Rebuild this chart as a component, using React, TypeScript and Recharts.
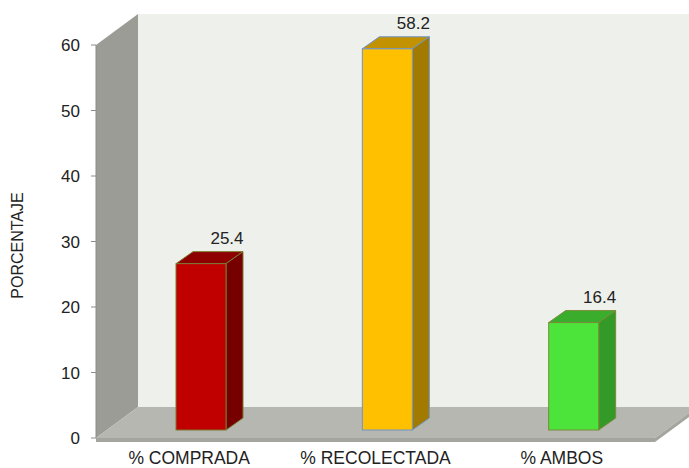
import React from 'react';
import { BarChart, Bar, XAxis, YAxis, ReferenceArea, LabelList } from 'recharts';

const categories = ['% COMPRADA', '% RECOLECTADA', '% AMBOS'];
const values = [25.4, 58.2, 16.4];
const yTicks = [0, 10, 20, 30, 40, 50, 60];
const axisTitle = 'PORCENTAJE';

const data = categories.map((name, i) => ({ name, value: values[i] }));

const frontColors = ['#c00000', '#ffc000', '#4ce43a'];
const topColors = ['#8e0000', '#c39200', '#3aae2c'];
const sideColors = ['#760000', '#a27a00', '#339a27'];
const strokeColors = ['#7a7a30', '#6f95c8', '#7c8a3a'];

const FONT = '"Liberation Sans", Arial, sans-serif';
const TEXT = '#222';

// bar offset into depth and bar depth
const OX = 12, OY = -8, DX = 17, DY = -12;
// wall depth
const WX = 42, WY = -31;

const Walls = (p: any) => {
  const { x, y, width, height } = p;
  const x0 = x, x1 = x + width, yTop = y, yBot = y + height;
  return (
    <g>
      <rect x={x0 + WX} y={yTop + WY} width={width + 60} height={height} fill="#eef0eb" />
      <polygon
        points={`${x0},${yTop} ${x0 + WX},${yTop + WY} ${x0 + WX},${yBot + WY} ${x0},${yBot}`}
        fill="#9a9c95"
      />
      <polygon
        points={`${x0},${yBot} ${x0 + WX},${yBot + WY} ${x1 + WX},${yBot + WY} ${x1},${yBot}`}
        fill="#b5b7b0"
      />
      <polygon
        points={`${x0},${yBot} ${x1},${yBot} ${x1 + WX},${yBot + WY} ${x1 + WX},${yBot + WY + 4} ${x1},${yBot + 4} ${x0},${yBot + 4}`}
        fill="#a3a59e"
      />
    </g>
  );
};

const Bar3D = (props: any) => {
  const { x, y, width, height, index } = props;
  const fx = x + OX, fy = y + OY;
  const stroke = strokeColors[index];
  return (
    <g>
      <polygon
        points={`${fx},${fy} ${fx + DX},${fy + DY} ${fx + width + DX},${fy + DY} ${fx + width},${fy}`}
        fill={topColors[index]}
        stroke={stroke}
        strokeWidth={1}
        strokeLinejoin="round"
      />
      <polygon
        points={`${fx + width},${fy} ${fx + width + DX},${fy + DY} ${fx + width + DX},${fy + height + DY} ${fx + width},${fy + height}`}
        fill={sideColors[index]}
        stroke={stroke}
        strokeWidth={1}
        strokeLinejoin="round"
      />
      <rect x={fx} y={fy} width={width} height={height} fill={frontColors[index]} stroke={stroke} strokeWidth={1} />
    </g>
  );
};

const ValueLabel = (props: any) => {
  const { x, y, width, value } = props;
  return (
    <text
      x={x + width / 2 + OX + 26}
      y={y + OY - 20}
      textAnchor="middle"
      fontFamily={FONT}
      fontSize={17}
      fill={TEXT}
    >
      {value}
    </text>
  );
};

const XTick = (props: any) => {
  const { x, payload } = props;
  return (
    <text x={x} y={464} textAnchor="middle" fontFamily={FONT} fontSize={17.5} fill={TEXT}>
      {payload.value}
    </text>
  );
};

const YTitle = (props: any) => {
  const vb = props.viewBox || { x: 0, y: 45, width: 96, height: 393 };
  const cx = 23;
  const cy = vb.y + vb.height / 2 + 4;
  return (
    <text
      x={cx}
      y={cy}
      transform={`rotate(-90, ${cx}, ${cy})`}
      textAnchor="middle"
      fontFamily={FONT}
      fontSize={16}
      fill={TEXT}
    >
      {axisTitle}
    </text>
  );
};

export default function App() {
  return (
    <div style={{ position: 'absolute', left: 0, top: 0, width: 689, height: 468, background: '#fff' }}>
      <BarChart
        width={689}
        height={468}
        data={data}
        margin={{ top: 45, right: 34, bottom: 0, left: 0 }}
        barSize={50}
      >
        <ReferenceArea y1={0} y2={60} ifOverflow="visible" shape={<Walls />} />
        <XAxis
          dataKey="name"
          axisLine={false}
          tickLine={false}
          height={30}
          tick={<XTick />}
          interval={0}
        />
        <YAxis
          width={96}
          domain={[0, 60]}
          ticks={yTicks}
          axisLine={{ stroke: '#8c8c8c' }}
          tickLine={{ stroke: '#8c8c8c' }}
          tickSize={5}
          tickMargin={11}
          tick={{ fontFamily: FONT, fontSize: 17, fill: TEXT }}
          label={<YTitle />}
        />
        <Bar dataKey="value" isAnimationActive={false} shape={<Bar3D />}>
          <LabelList dataKey="value" content={<ValueLabel />} />
        </Bar>
      </BarChart>
    </div>
  );
}
